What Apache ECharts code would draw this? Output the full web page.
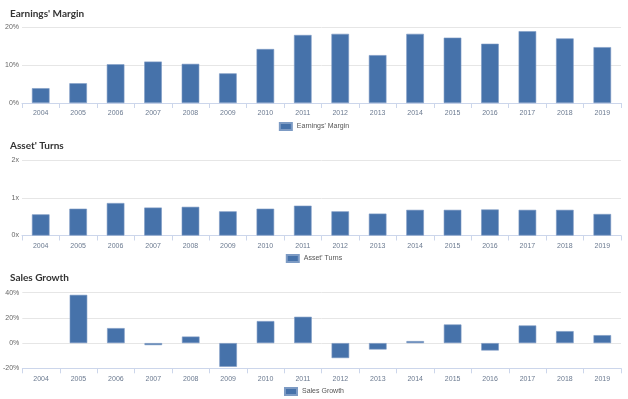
<!DOCTYPE html>
<html><head><meta charset="utf-8">
<script src="https://cdn.jsdelivr.net/npm/echarts@6/dist/echarts.min.js"></script>
<style>html,body{margin:0;padding:0;background:#fff}#c{width:628px;height:399px}</style>
</head><body><div id="c"></div>
<script>
const years = ['2004','2005','2006','2007','2008','2009','2010','2011','2012','2013','2014','2015','2016','2017','2018','2019'];
const earningsMargin = [3.9,5.2,10.2,10.9,10.3,7.8,14.2,17.9,18.2,12.6,18.2,17.2,15.6,18.9,17.0,14.7];
const assetTurns = [0.56,0.71,0.86,0.74,0.76,0.64,0.71,0.79,0.64,0.58,0.68,0.68,0.69,0.68,0.68,0.57];
const salesGrowth = [null,38.3,11.9,-1.6,5.2,-18.8,17.5,20.9,-11.9,-5.1,1.6,14.8,-5.9,14.0,9.5,6.3];
const titles = ["Earnings' Margin","Asset' Turns","Sales Growth"];
const yTicks = [{min:0,max:20,interval:10,suffix:'%'},{min:0,max:2,interval:1,suffix:'x'},{min:-20,max:40,interval:20,suffix:'%'}];

const color = '#4672aa';
const grids = [{top:27,height:76},{top:160,height:75.5},{top:292.7,height:75.6}];
const titleTops = [4,136,268];
const legendTops = [117,249,382];
const datas = [earningsMargin, assetTurns, salesGrowth];
const option = {
  animation:false,
  title: titles.map((t,i)=>({text:t,left:5,top:titleTops[i],textStyle:{fontSize:10,fontWeight:'bold',color:'#333',fontFamily:'Lato, "Open Sans", sans-serif'}})),
  legend: titles.map((t,i)=>({data:[t],top:legendTops[i],left:'center',itemWidth:12,itemHeight:7,itemGap:4,textStyle:{fontSize:7,color:'#555',fontFamily:'Arial, sans-serif'},icon:'rect'})),
  grid: grids.map(g=>({left:22,right:7,top:g.top,height:g.height})),
  xAxis: grids.map((g,i)=>({type:'category',gridIndex:i,data:years,
    axisLine:{onZero:false,lineStyle:{color:'#ccd6eb'}},
    axisTick:{show:true,length:5,lineStyle:{color:'#ccd6eb'}},
    axisLabel:{fontSize:7,color:'#6b7a90',margin:7,fontFamily:'Arial, sans-serif'}})),
  yAxis: yTicks.map((t,i)=>({type:'value',gridIndex:i,min:t.min,max:t.max,interval:t.interval,
    axisLine:{show:false},axisTick:{show:false},
    splitLine:{lineStyle:{color:'#e6e6e6'}},
    axisLabel:{fontSize:7,color:'#666',margin:3,fontFamily:'Arial, sans-serif',formatter:v=>v+t.suffix}})),
  series: titles.map((t,i)=>({name:t,type:'bar',xAxisIndex:i,yAxisIndex:i,data:datas[i],barWidth:'47%',
    itemStyle:{color:color,borderColor:'#7d9bc4',borderWidth:0.6}}))
};
echarts.init(document.getElementById('c')).setOption(option);
</script></body></html>
